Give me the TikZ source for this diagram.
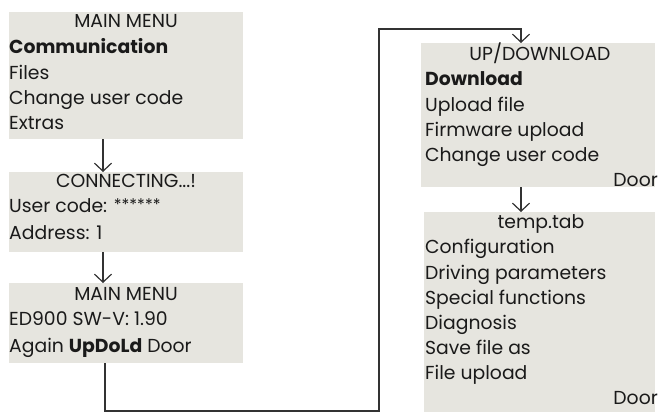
\documentclass[tikz,border=0pt]{standalone}
\usepackage{fontspec}
\setmainfont{Poppins}
\usetikzlibrary{arrows.meta,calc}
\definecolor{boxgray}{HTML}{E6E5DF}
\definecolor{linegray}{HTML}{333333}
\definecolor{txtcol}{HTML}{1A1A1A}
\begin{document}
\begin{tikzpicture}[x=1pt,y=-1pt,
  box/.style={fill=boxgray,draw=none,anchor=north west,inner sep=0pt,outer sep=0pt},
  txt/.style={anchor=base west,inner sep=0pt,font=\fontsize{18.8}{22}\selectfont,text=txtcol},
  ttl/.style={anchor=base,inner sep=0pt,font=\fontsize{18.8}{22}\selectfont,text=txtcol},
  txr/.style={anchor=base east,inner sep=0pt,font=\fontsize{18.8}{22}\selectfont,text=txtcol},
  arr/.style={draw=linegray,line width=1.3pt,-{Straight Barb[length=8pt,width=17pt,line width=1.2pt]}},
  link/.style={draw=linegray,line width=1.3pt}]
\useasboundingbox (0,0) rectangle (659,413);
% boxes
\node[box,minimum width=234pt,minimum height=127pt] (b1) at (9,12) {};
\node[box,minimum width=234pt,minimum height=80pt] (b2) at (9,172) {};
\node[box,minimum width=234pt,minimum height=80pt] (b3) at (9,283) {};
\node[box,minimum width=234pt,minimum height=144pt] (b4) at (421,43) {};
\node[box,minimum width=231pt,minimum height=200pt] (b5) at (424,212) {};
% box 1
\node[ttl] (t11) at (126,27) {MAIN MENU};
\node[txt] (t12) at (9,53) {\textbf{Communication}};
\node[txt] (t13) at (9,79) {Files};
\node[txt] (t14) at (9,104) {Change user code};
\node[txt] (t15) at (9,129) {Extras};
% box 2
\node[ttl] (t21) at (126,187) {CONNECTING...!};
\node[txt] (t22) at (9,212) {User code: {\raisebox{1.5pt}{\fontsize{16}{16}\selectfont ******}}};
\node[txt] (t23) at (9,239) {Address: 1};
% box 3
\node[ttl] (t31) at (126,300) {MAIN MENU};
\node[txt] (t32) at (9,325) {ED900 SW-V: 1.90};
\node[txt] (t33) at (9,352) {Again \textbf{UpDoLd} Door};
% box 4
\node[ttl] (t41) at (540,60) {UP/DOWNLOAD};
\node[txt] (t42) at (425,85) {\textbf{Download}};
\node[txt] (t43) at (425,111) {Upload file};
\node[txt] (t44) at (425,136) {Firmware upload};
\node[txt] (t45) at (425,161) {Change user code};
\node[txr] (t46) at (658,186) {Door};
% box 5
\node[ttl] (t51) at (541,228) {temp.tab};
\node[txt] (t52) at (425,253) {Configuration};
\node[txt] (t53) at (425,279) {Driving parameters};
\node[txt] (t54) at (425,304) {Special functions};
\node[txt] (t55) at (425,329) {Diagnosis};
\node[txt] (t56) at (425,354) {Save file as};
\node[txt] (t57) at (425,379) {File upload};
\node[txr] (t58) at (658,404) {Door};
% connectors
\coordinate (ax) at (103,0);
\coordinate (cx) at (105,0);
\coordinate (rx) at (379,0);
\coordinate (ux) at (521,0);
\coordinate (bot) at (0,411);
\coordinate (top) at (0,29);
\draw[arr] (ax |- b1.south) -- (ax |- b2.north);
\draw[arr] (ax |- b2.south) -- (ax |- b3.north);
\draw[arr] (cx |- b3.south) -- (cx |- bot) -- (rx |- bot) -- (rx |- top) -- (ux |- top) -- (ux |- b4.north);
\draw[arr] (ux |- b4.south) -- (ux |- b5.north);
\end{tikzpicture}
\end{document}
